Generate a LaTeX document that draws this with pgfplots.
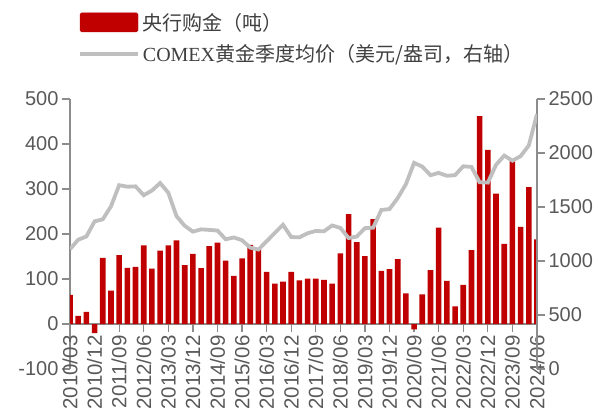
\documentclass[border=0pt]{standalone}
\usepackage{pgfplots}
\pgfplotsset{compat=1.18}
\usepackage{fontspec}
\setmainfont{Liberation Serif}
\setsansfont{Liberation Sans}
\newfontfamily\cjk{Noto Sans CJK SC}
\definecolor{barred}{HTML}{C00000}
\definecolor{linegray}{HTML}{BFBFBF}
\definecolor{axisgray}{HTML}{8C8C8C}
\definecolor{ticktext}{HTML}{595959}
\definecolor{legtext}{HTML}{404040}

\pgfplotstableread{
x y
0 65
1 18
2 27
3 -20
4 147
5 74
6 153
7 125
8 127
9 175
10 123
11 163
12 175
13 186
14 131
15 156
16 124
17 173
18 181
19 141
20 107
21 146
22 176
23 167
24 116
25 90
26 94
27 116
28 97
29 101
30 101
31 98
32 90
33 157
34 244
35 182
36 151
37 233
38 118
39 122
40 144
41 68
42 -12
43 66
44 120
45 214
46 96
47 39
48 87
49 164
50 462
51 387
52 290
53 178
54 363
55 216
56 304
57 188
}\cbdata

\pgfplotstableread{
x y
0 1109
1 1197
2 1227
3 1367
4 1386
5 1506
6 1702
7 1688
8 1691
9 1609
10 1652
11 1722
12 1632
13 1415
14 1326
15 1272
16 1293
17 1288
18 1282
19 1201
20 1218
21 1192
22 1124
23 1106
24 1183
25 1260
26 1335
27 1222
28 1219
29 1257
30 1278
31 1275
32 1329
33 1306
34 1213
35 1226
36 1304
37 1309
38 1472
39 1481
40 1583
41 1711
42 1909
43 1874
44 1794
45 1816
46 1789
47 1795
48 1877
49 1871
50 1729
51 1726
52 1890
53 1976
54 1929
55 1971
56 2070
57 2360
}\golddata

\pgfplotsset{
  common/.style={
    scale only axis, width=467pt, height=270pt,
    at={(70pt,47pt)}, anchor=south west,
    xmin=0, xmax=57,
    tick align=outside,
    major tick length=8pt,
    axis line style={axisgray, line width=1.3pt},
    every tick/.style={axisgray, line width=1.3pt},
    ticklabel style={font=\sffamily\fontsize{20}{20}\selectfont, text=ticktext},
    /pgf/number format/assume math mode=true,
    /pgf/number format/1000 sep={},
  }
}

\begin{document}
\begin{tikzpicture}
\useasboundingbox (0pt,0pt) rectangle (598pt,416pt);
\begin{axis}[common,
  ymin=-100, ymax=500,
  axis y line*=left,
  axis x line*=middle,
  hide obscured x ticks=false,
  hide obscured y ticks=false,
  ytick={-100,0,100,200,300,400,500},
  xtick={0,3,...,57},
  xticklabels={2010/03,2010/12,2011/09,2012/06,2013/03,2013/12,2014/09,2015/06,2016/03,2016/12,2017/09,2018/06,2019/03,2019/12,2020/09,2021/06,2022/03,2022/12,2023/09,2024/06},
  xtick align=outside,
  x tick label style={rotate=90, anchor=east, font=\sffamily\fontsize{20.5}{20.5}\selectfont},
]
\addplot[ybar, bar width=5.6pt, fill=barred, draw=none] table[x=x,y=y] {\cbdata};
\end{axis}
\begin{axis}[common,
  ymin=0, ymax=2500,
  axis y line*=right,
  axis x line=none,
  ytick={0,500,1000,1500,2000,2500},
  legend cell align=left,
  legend style={at={(0.017,1.33)}, anchor=north west, draw=none, fill=none,
    font=\fontsize{20}{24}\selectfont, text=legtext, row sep=7pt,
    inner sep=0pt, nodes={inner sep=3pt}},
]
\addlegendimage{legend image code/.code={\fill[barred, rounded corners=1.5pt] (0pt,-9.5pt) rectangle (58pt,9.5pt);}}
\addlegendentry{{\cjk 央行购金（吨）}}
\addlegendimage{legend image code/.code={\draw[linegray, line width=3.8pt] (0pt,0pt) -- (58pt,0pt);}}
\addlegendentry{COMEX{\cjk 黄金季度均价（美元/盎司，右轴）}}
\addplot[linegray, line width=3.8pt, forget plot] table[x=x,y=y] {\golddata};
\end{axis}
\end{tikzpicture}
\end{document}
